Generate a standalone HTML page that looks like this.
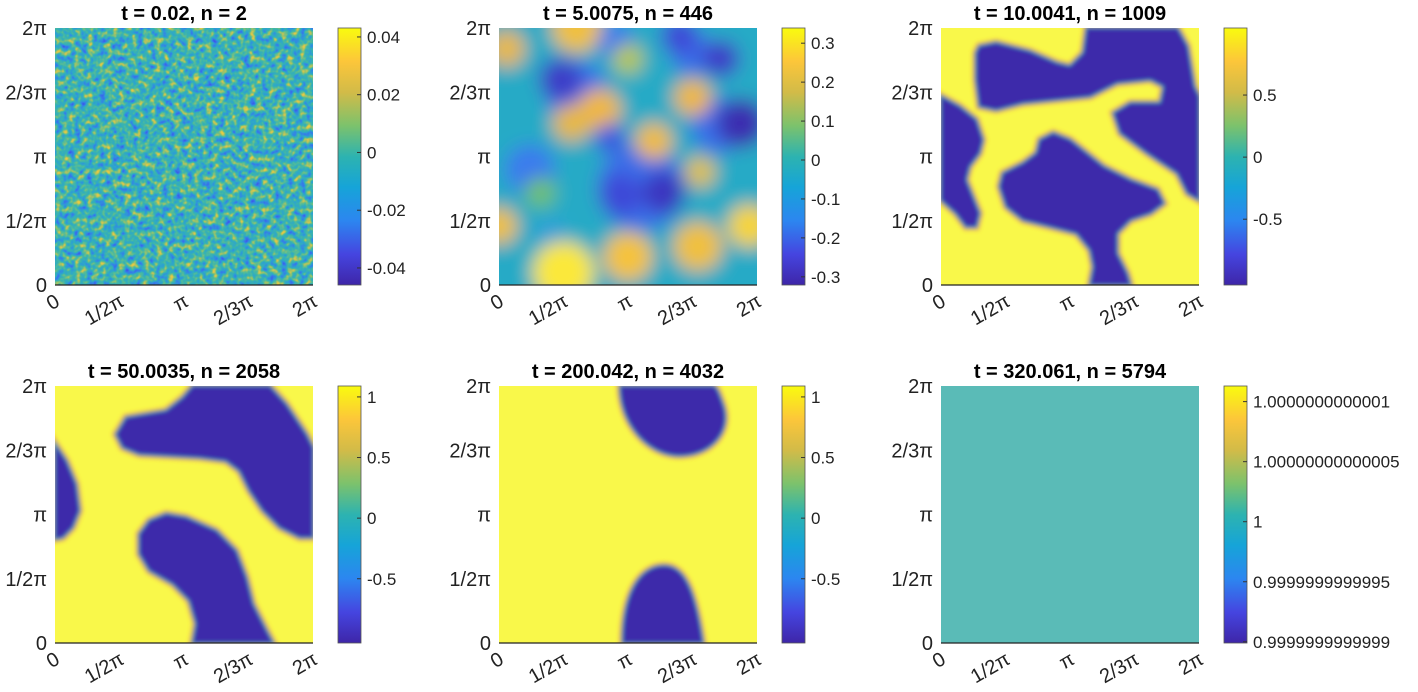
<!DOCTYPE html>
<html><head><meta charset="utf-8"><style>
html,body{margin:0;padding:0;background:#fff;}
svg{display:block;font-family:"Liberation Sans",sans-serif;}
</style></head><body>
<svg id="fig" width="1418" height="692" viewBox="0 0 1418 692" xmlns="http://www.w3.org/2000/svg">
<defs>
<linearGradient id="parula" x1="0" y1="1" x2="0" y2="0">
<stop offset="0" stop-color="#3e26a8"/><stop offset="0.12" stop-color="#4545e0"/>
<stop offset="0.25" stop-color="#2c86f0"/><stop offset="0.38" stop-color="#16a4d8"/>
<stop offset="0.5" stop-color="#2db3b0"/><stop offset="0.62" stop-color="#7cc26c"/>
<stop offset="0.75" stop-color="#d2bb48"/><stop offset="0.87" stop-color="#fcc63a"/>
<stop offset="1" stop-color="#f9fb0e"/></linearGradient>
<filter id="noise" x="0" y="0" width="1" height="1" color-interpolation-filters="sRGB">
<feTurbulence type="fractalNoise" baseFrequency="0.16" numOctaves="2" seed="5"/>
<feColorMatrix type="matrix" values="1 0 0 0 0 1 0 0 0 0 1 0 0 0 0 0 0 0 0 1"/>
<feComponentTransfer>
<feFuncR type="table" tableValues="0.24 0.24 0.22 0.2 0.18 0.22 0.35 0.6 0.85 0.95 0.98"/>
<feFuncG type="table" tableValues="0.3 0.35 0.45 0.55 0.65 0.7 0.74 0.76 0.78 0.82 0.88"/>
<feFuncB type="table" tableValues="0.85 0.9 0.92 0.88 0.8 0.7 0.58 0.42 0.3 0.22 0.15"/>
<feFuncA type="table" tableValues="1 1"/>
</feComponentTransfer></filter>
<filter id="soft" x="-0.2" y="-0.2" width="1.4" height="1.4"><feGaussianBlur stdDeviation="9"/></filter>
<filter id="edge" x="-0.1" y="-0.1" width="1.2" height="1.2"><feGaussianBlur stdDeviation="2.2"/></filter>
</defs>
</svg>
<script>
const titles=["t = 0.02, n = 2","t = 5.0075, n = 446","t = 10.0041, n = 1009","t = 50.0035, n = 2058","t = 200.042, n = 4032","t = 320.061, n = 5794"];
const axisTickFrac=[0,0.25,0.5,0.75,1];
const xTickLabels=["0","1/2π","π","2/3π","2π"];
const yTickLabels=["0","1/2π","π","2/3π","2π"];
const cbMin=[-0.0459,-0.321,-1.03,-1.03,-1.03,-1.01];
const cbMax=[0.0431,0.339,1.04,1.09,1.09,1.13];
const cbTickVals=[[0.04,0.02,0,-0.02,-0.04],[0.3,0.2,0.1,0,-0.1,-0.2,-0.3],[0.5,0,-0.5],[1,0.5,0,-0.5],[1,0.5,0,-0.5],[1,0.5,0,-0.5,-1]];
const cbTickLabels=[["0.04","0.02","0","-0.02","-0.04"],["0.3","0.2","0.1","0","-0.1","-0.2","-0.3"],["0.5","0","-0.5"],["1","0.5","0","-0.5"],["1","0.5","0","-0.5"],["1.0000000000001","1.00000000000005","1","0.9999999999995","0.9999999999999"]];
// panel 2 smooth field blobs: x frac, y frac (from top), radius frac, colour
const blobX=[0.55,0.3,0.12,0.85,0.45,0.75,0.2,0.25,0.5,0.77,0.97,0.0,0.3,0.03,0.39,0.28,0.6,0.75,0.78,0.5,0.24,0.94,0.86,0.64,0.47,0.7,0.43,0.16];
const blobY=[0.62,0.25,0.55,0.38,0.05,0.1,0.8,0.95,0.89,0.85,0.77,0.77,0.0,0.08,0.32,0.37,0.44,0.27,0.56,0.12,0.2,0.37,0.12,0.64,0.65,0.03,0.43,0.64];
const blobR=[0.14,0.1,0.08,0.09,0.06,0.07,0.05,0.1,0.08,0.08,0.07,0.06,0.08,0.06,0.07,0.06,0.06,0.06,0.05,0.05,0.07,0.08,0.06,0.07,0.07,0.06,0.05,0.05];
const blobC=["#3a6ee8","#3a70ea","#3a7aee","#3a6ee8","#3a7aee","#3a6ee8","#2fa0d8","#fbe83a","#f5c23c","#f0c040","#f6d43a","#f0c040","#f0c040","#e8b848","#f0b840","#e8b840","#f0bc40","#f0b840","#e0c048","#b8c850","#3d3ec8","#3a2eb0","#3d3ec8","#3a34c0","#3d48d8","#3d48d8","#3d58e0","#70c070"];
// two-phase regions in [0,1] square (from top-left)
const regions=[
 [],[],
 ["M0.149,0.071 L0.214,0.058 L0.344,0.091 L0.448,0.136 L0.500,0.149 L0.552,0.097 L0.565,0 L0.916,0 L0.955,0.071 L0.981,0.227 L1,0.266 L1,0.669 L0.955,0.643 L0.916,0.565 L0.799,0.487 L0.695,0.409 L0.669,0.331 L0.734,0.292 L0.851,0.292 L0.864,0.227 L0.812,0.201 L0.682,0.214 L0.578,0.266 L0.448,0.279 L0.318,0.292 L0.214,0.318 L0.149,0.305 L0.136,0.201 L0.136,0.097 Z",
  "M0,0.266 L0.071,0.305 L0.136,0.357 L0.162,0.435 L0.149,0.487 L0.110,0.539 L0.097,0.591 L0.123,0.656 L0.149,0.721 L0.136,0.773 L0.097,0.773 L0.058,0.721 L0,0.669 Z",
  "M0.240,0.565 L0.318,0.526 L0.370,0.487 L0.383,0.435 L0.435,0.409 L0.500,0.435 L0.565,0.487 L0.630,0.539 L0.734,0.591 L0.838,0.630 L0.864,0.682 L0.812,0.721 L0.734,0.747 L0.682,0.799 L0.682,0.877 L0.721,0.955 L0.734,1 L0.578,1 L0.591,0.929 L0.578,0.864 L0.526,0.799 L0.422,0.773 L0.318,0.747 L0.253,0.695 L0.227,0.617 Z"],
 ["M0.534,0 L0.832,0 L0.896,0.071 L0.974,0.188 L1,0.240 L1,0.589 L0.948,0.589 L0.871,0.550 L0.806,0.485 L0.754,0.408 L0.715,0.330 L0.663,0.291 L0.560,0.278 L0.327,0.265 L0.263,0.239 L0.237,0.188 L0.276,0.123 L0.353,0.110 L0.431,0.097 L0.496,0.045 Z",
  "M0,0.226 L0.043,0.291 L0.081,0.382 L0.094,0.485 L0.068,0.550 L0.030,0.589 L0,0.595 Z",
  "M0.327,0.576 L0.366,0.524 L0.431,0.498 L0.508,0.511 L0.625,0.563 L0.702,0.641 L0.741,0.744 L0.767,0.848 L0.819,0.951 L0.845,1 L0.534,1 L0.547,0.925 L0.521,0.835 L0.457,0.770 L0.366,0.718 L0.327,0.653 Z"],
 ["M0.47,0 C0.47,0.15 0.58,0.27 0.7,0.27 C0.82,0.27 0.9,0.18 0.87,0.08 C0.85,0.02 0.84,0 0.83,0 Z",
  "M0.48,1 C0.48,0.8 0.55,0.7 0.64,0.7 C0.72,0.7 0.76,0.8 0.79,1 Z"],
];
const NS="http://www.w3.org/2000/svg";
const svg=document.getElementById('fig');
const W=258,H=257,axLeft=[55,499,941],axTop=[28,386];
function mk(tag,attrs,parent){const e=document.createElementNS(NS,tag);for(const k in attrs)e.setAttribute(k,attrs[k]);(parent||svg).appendChild(e);return e;}
for(let p=0;p<6;p++){
 const L=axLeft[p%3],T=axTop[Math.floor(p/3)];
 const xs=f=>L+f*W, ys=f=>T+H-f*H;
 const g=mk('g',{});
 
 
 const cp=mk('clipPath',{id:'cp'+p},g);mk('rect',{x:L,y:T,width:W,height:H},cp);
 const hm=mk('g',{'clip-path':'url(#cp'+p+')'},g);
 
 
 if(p===0){mk('rect',{x:L,y:T,width:W,height:H,filter:'url(#noise)'},hm);}
 else if(p===1){mk('rect',{x:L-20,y:T-20,width:W+40,height:H+40,fill:'#27aac6'},hm);
  const bg=mk('g',{filter:'url(#soft)'},hm);
  mk('rect',{x:L-20,y:T-20,width:W+40,height:H+40,fill:'#27aac6'},bg);
  for(let i=0;i<blobX.length;i++){const c=mk('circle',{cx:L+blobX[i]*W,cy:T+blobY[i]*H,r:blobR[i]*W*1.2,fill:blobC[i]},bg);
   }}
 else if(p===5){mk('rect',{x:L,y:T,width:W,height:H,fill:'#5abbb7'},hm);}
 else{mk('rect',{x:L,y:T,width:W,height:H,fill:'#f9f84a'},hm);
  const eg=mk('g',{filter:'url(#edge)'},hm);
  const eg2=mk('g',{transform:`translate(${L},${T}) scale(${W},${H})`},eg);
  regions[p].forEach(d=>{mk('path',{d:d,fill:'#f0b23c',stroke:'#f2b03c','stroke-width':0.03},eg2);});
  regions[p].forEach(d=>{mk('path',{d:d,fill:'#22a6c0',stroke:'#22a6c0','stroke-width':0.014},eg2);});
  regions[p].forEach(d=>{const r=mk('path',{d:d,fill:'#3d2aaa'},eg2);
   });}
 mk('line',{x1:L,y1:T+H,x2:L+W,y2:T+H,stroke:'#222','stroke-width':1.2},g);
 const t=mk('text',{x:L+W/2,y:T-8,'text-anchor':'middle','font-size':20,'font-weight':'bold',fill:'#000'},g);
 t.textContent=titles[p];
 axisTickFrac.forEach((f,i)=>{
  const yl=mk('text',{x:L-8,y:ys(f)+7,'text-anchor':'end','font-size':20,fill:'#222'},g);
  yl.textContent=yTickLabels[i];
  const X=xs(f)+6,Y=T+H+20;
  const xl=mk('text',{x:X,y:Y,'text-anchor':'end','font-size':20,fill:'#222',transform:`rotate(-30 ${X} ${Y})`},g);
  xl.textContent=xTickLabels[i];
 });
 const cbL=L+283,cbW=23;
 const cb=mk('rect',{x:cbL,y:T,width:cbW,height:H,fill:'url(#parula)',stroke:'#555','stroke-width':0.8},g);
 
 cbTickVals[p].forEach((v,i)=>{
  const y=T+H-(v-cbMin[p])/(cbMax[p]-cbMin[p])*H;
  mk('line',{x1:cbL+cbW-4,y1:y,x2:cbL+cbW,y2:y,stroke:'#333','stroke-width':1},g);
  const tl=mk('text',{x:cbL+cbW+6,y:y+6,'font-size':17,fill:'#222'},g);
  tl.textContent=cbTickLabels[p][i];
 });
}
</script>
</body></html>
